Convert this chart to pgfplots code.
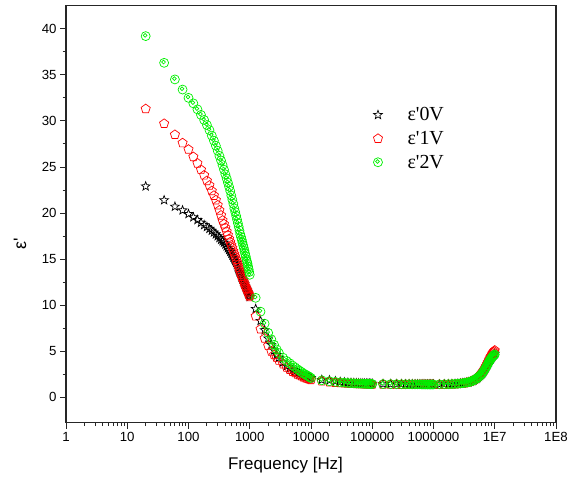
\documentclass[border=0pt]{standalone}
\usepackage{fontspec}
\setmainfont{Liberation Sans}
\newfontfamily\tms{Liberation Serif}
\usepackage{pgfplots}
\usepackage{pgfplotstable}
\pgfplotsset{compat=1.18}
\usetikzlibrary{plotmarks}

\pgfdeclareplotmark{ostar}{%
  \pgfpathmoveto{\pgfpointpolar{90}{\pgfplotmarksize}}%
  \pgfpathlineto{\pgfpointpolar{126}{0.42*\pgfplotmarksize}}%
  \pgfpathlineto{\pgfpointpolar{162}{\pgfplotmarksize}}%
  \pgfpathlineto{\pgfpointpolar{198}{0.42*\pgfplotmarksize}}%
  \pgfpathlineto{\pgfpointpolar{234}{\pgfplotmarksize}}%
  \pgfpathlineto{\pgfpointpolar{270}{0.42*\pgfplotmarksize}}%
  \pgfpathlineto{\pgfpointpolar{306}{\pgfplotmarksize}}%
  \pgfpathlineto{\pgfpointpolar{342}{0.42*\pgfplotmarksize}}%
  \pgfpathlineto{\pgfpointpolar{18}{\pgfplotmarksize}}%
  \pgfpathlineto{\pgfpointpolar{54}{0.42*\pgfplotmarksize}}%
  \pgfpathclose
  \pgfusepathqstroke
}
\pgfdeclareplotmark{ocirc}{%
  \pgfpathcircle{\pgfpointorigin}{\pgfplotmarksize}%
  \pgfusepathqstroke
  \pgfpathcircle{\pgfpoint{-0.12\pgfplotmarksize}{0.18\pgfplotmarksize}}{0.42\pgfplotmarksize}%
  \pgfusepathqstroke
}

\definecolor{myred}{RGB}{255,0,0}
\definecolor{mygreen}{RGB}{0,240,0}

\pgfplotstableread{
f e0 e1 e2
20 22.9 31.3 39.2
40 21.4 29.7 36.3
60 20.7 28.5 34.5
80 20.3 27.6 33.4
100 19.9 26.9 32.5
120 19.55 26.1 31.9
140 19.25 25.4 31.25
160 18.95 24.7 30.65
180 18.7 24.1 30.1
200 18.5 23.5 29.55
220 18.3 23.0 29.0
240 18.1 22.4 28.4
260 17.9 21.9 27.85
280 17.7 21.4 27.3
300 17.5 20.85 26.75
320 17.3 20.3 26.2
340 17.1 19.75 25.7
360 16.95 19.2 25.2
380 16.8 18.8 24.7
400 16.6 18.4 24.2
420 16.4 18.0 23.75
440 16.2 17.6 23.3
460 16.0 17.2 22.85
480 15.8 16.85 22.4
500 15.6 16.5 21.9
520 15.4 16.2 21.45
540 15.2 15.85 21.0
560 15.0 15.55 20.5
580 14.8 15.25 20.1
600 14.6 14.95 19.7
620 14.35 14.65 19.3
640 14.1 14.35 18.9
660 13.85 14.1 18.5
680 13.6 13.85 18.1
700 13.4 13.6 17.7
720 13.2 13.35 17.4
740 13.0 13.1 17.1
760 12.8 12.9 16.8
780 12.6 12.7 16.5
800 12.4 12.5 16.2
820 12.25 12.3 15.9
840 12.1 12.1 15.6
860 11.9 11.95 15.3
880 11.75 11.8 15.0
900 11.6 11.65 14.75
920 11.45 11.5 14.5
940 11.3 11.35 14.2
960 11.15 11.2 13.9
980 11.0 11.05 13.6
1000 10.9 10.9 13.3
1250 9.6 8.8 10.8
1500 8.3 7.4 9.3
1750 7.3 6.4 8.0
2000 6.4 5.6 7.0
2250 5.7 5.0 6.3
2500 5.1 4.6 5.7
2750 4.6 4.3 5.2
3000 4.3 4.0 4.8
3500 3.8 3.6 4.3
4000 3.4 3.25 3.95
4500 3.15 3.0 3.7
5000 2.95 2.8 3.45
5500 2.8 2.65 3.25
6000 2.65 2.5 3.05
6500 2.55 2.4 2.9
7000 2.45 2.3 2.75
7500 2.35 2.2 2.6
8000 2.3 2.1 2.5
8500 2.25 2.05 2.4
9000 2.2 2.0 2.3
9500 2.15 1.95 2.2
10000 2.1 1.9 2.1
15000 1.9 1.75 1.85
20000 1.85 1.66 1.75
25000 1.75 1.6 1.68
30000 1.68 1.56 1.63
35000 1.63 1.53 1.59
40000 1.6 1.51 1.56
45000 1.57 1.49 1.54
50000 1.55 1.48 1.52
55000 1.54 1.47 1.51
60000 1.53 1.46 1.5
65000 1.52 1.45 1.49
70000 1.51 1.45 1.48
75000 1.5 1.44 1.47
80000 1.5 1.44 1.47
85000 1.49 1.43 1.46
90000 1.49 1.43 1.46
95000 1.48 1.42 1.45
100000 1.48 1.42 1.45
150000 1.46 1.41 1.44
200000 1.45 1.40 1.43
250000 1.44 1.40 1.43
300000 1.44 1.39 1.42
350000 1.43 1.39 1.42
400000 1.43 1.39 1.42
450000 1.43 1.38 1.41
500000 1.42 1.38 1.41
550000 1.42 1.38 1.41
600000 1.42 1.38 1.41
650000 1.42 1.38 1.40
700000 1.42 1.38 1.40
750000 1.41 1.38 1.40
800000 1.41 1.38 1.40
850000 1.41 1.38 1.40
900000 1.41 1.38 1.40
950000 1.41 1.38 1.40
1000000 1.41 1.38 1.40
1250000 1.41 1.38 1.41
1500000 1.42 1.39 1.42
1750000 1.43 1.40 1.43
2000000 1.44 1.41 1.44
2250000 1.46 1.43 1.46
2500000 1.48 1.45 1.48
2750000 1.51 1.48 1.51
3000000 1.54 1.51 1.54
3250000 1.57 1.55 1.57
3500000 1.61 1.60 1.61
3750000 1.65 1.65 1.65
4000000 1.70 1.70 1.70
4250000 1.77 1.78 1.77
4500000 1.85 1.86 1.85
4750000 1.93 1.95 1.93
5000000 2.02 2.05 2.02
5250000 2.12 2.16 2.12
5500000 2.23 2.28 2.23
5750000 2.35 2.41 2.35
6000000 2.48 2.55 2.48
6250000 2.62 2.70 2.62
6500000 2.78 2.85 2.78
6750000 2.95 3.02 2.95
7000000 3.12 3.20 3.12
7250000 3.30 3.40 3.30
7500000 3.48 3.60 3.48
7750000 3.66 3.80 3.66
8000000 3.83 4.00 3.83
8250000 3.98 4.18 3.98
8500000 4.12 4.35 4.12
8750000 4.25 4.50 4.24
9000000 4.37 4.65 4.35
9250000 4.48 4.78 4.45
9500000 4.58 4.90 4.53
9750000 4.68 5.00 4.60
10000000 4.75 5.10 4.65
}\data

\begin{document}
\begin{tikzpicture}
\begin{axis}[
  scale only axis, width=490bp, height=417bp,
  xmode=log, log basis x=10,
  xmin=1, xmax=1e8, ymin=-2.75, ymax=42.5,
  xtick={1,10,100,1000,1e4,1e5,1e6,1e7,1e8},
  xticklabels={1,10,100,1000,10000,100000,1000000,1E7,1E8},
  minor xtick={2,3,4,5,6,7,8,9,
    20,30,40,50,60,70,80,90,
    200,300,400,500,600,700,800,900,
    2e3,3e3,4e3,5e3,6e3,7e3,8e3,9e3,
    2e4,3e4,4e4,5e4,6e4,7e4,8e4,9e4,
    2e5,3e5,4e5,5e5,6e5,7e5,8e5,9e5,
    2e6,3e6,4e6,5e6,6e6,7e6,8e6,9e6,
    2e7,3e7,4e7,5e7,6e7,7e7,8e7,9e7},
  ytick={0,5,...,40}, minor ytick={2.5,7.5,...,37.5},
  tick align=outside, xtick pos=bottom, ytick pos=left,
  major tick length=6bp, minor tick length=3.5bp,
  /pgf/number format/assume math mode=true,
  ticklabel style={font=\fontsize{13.3}{15}\selectfont},
  xlabel={Frequency [Hz]}, ylabel={ε\textquotesingle},
  every axis x label/.style={at={(rel axis cs:0.448,0)}, yshift=-42bp, anchor=center, font=\fontsize{17}{20}\selectfont},
  every axis y label/.style={at={(rel axis cs:0,0.43)}, xshift=-46bp, rotate=90, anchor=center, font=\fontsize{18}{20}\selectfont},
  axis line style={line width=1.1bp, black!85},
  every tick/.style={black!85, line width=0.9bp},
  legend style={draw=none, fill=none, at={(rel axis cs:0.627,0.761)}, anchor=north west,
    font=\tms\fontsize{20}{22}\selectfont, row sep=5bp, inner sep=0pt,
    /tikz/every odd column/.append style={column sep=23bp}},
  legend cell align=left,
  legend image code/.code={\draw[#1] plot coordinates {(0bp,0bp)};},
]
\coordinate (ll) at (rel axis cs:0,0);
\addplot[only marks, mark=ostar, mark size=4.6bp, black, line width=0.7bp] table[x=f, y=e0] {\data};
\addlegendentry{ε\textquotesingle 0V}
\addplot[only marks, mark=pentagon, mark size=4.8bp, myred, line width=0.7bp] table[x=f, y=e1] {\data};
\addlegendentry{ε\textquotesingle 1V}
\addplot[only marks, mark=ocirc, mark size=4.5bp, mygreen, line width=0.7bp] table[x=f, y=e2] {\data};
\addlegendentry{ε\textquotesingle 2V}
\end{axis}
\pgfresetboundingbox
\path[use as bounding box] ([shift={(-66bp,-77.3bp)}]ll) rectangle ++(569bp,500bp);
\end{tikzpicture}
\end{document}
